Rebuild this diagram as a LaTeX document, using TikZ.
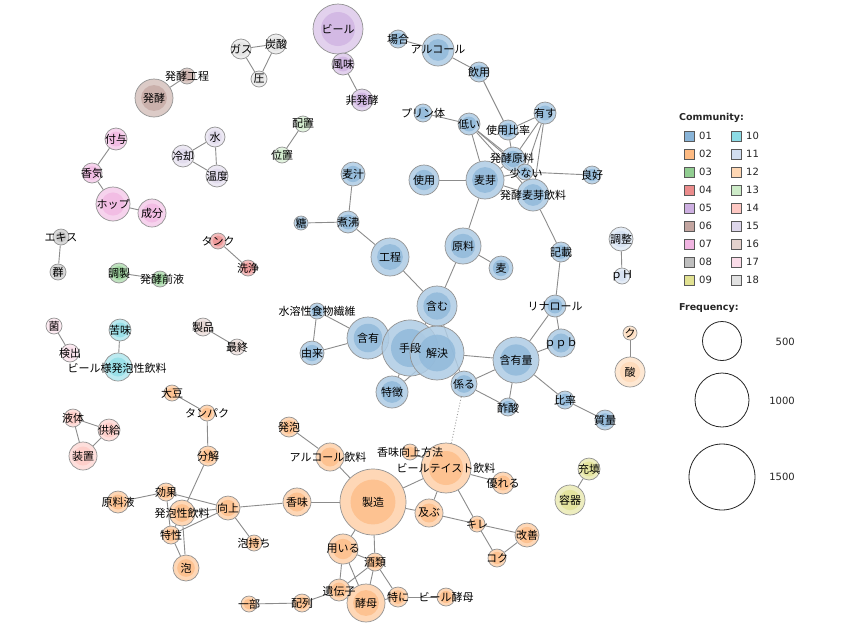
\documentclass[tikz,border=0pt]{standalone}
\usepackage{fontspec}
\setmainfont{DejaVu Sans}
\newfontfamily\jpfont{Noto Sans CJK JP}
\usetikzlibrary{calc}
\pgfdeclarelayer{back}\pgfdeclarelayer{bg}\pgfdeclarelayer{fg}\pgfsetlayers{back,bg,main,fg}
\definecolor{c01}{RGB}{137,180,216}
\definecolor{c02}{RGB}{253,186,130}
\definecolor{c03}{RGB}{145,205,145}
\definecolor{c04}{RGB}{235,140,140}
\definecolor{c05}{RGB}{205,175,225}
\definecolor{c06}{RGB}{195,165,160}
\definecolor{c07}{RGB}{240,180,225}
\definecolor{c08}{RGB}{190,190,190}
\definecolor{c09}{RGB}{225,225,145}
\definecolor{c10}{RGB}{140,220,230}
\definecolor{c11}{RGB}{210,222,240}
\definecolor{c12}{RGB}{254,215,180}
\definecolor{c13}{RGB}{205,235,200}
\definecolor{c14}{RGB}{254,200,195}
\definecolor{c15}{RGB}{222,215,235}
\definecolor{c16}{RGB}{228,210,205}
\definecolor{c17}{RGB}{250,220,232}
\definecolor{c18}{RGB}{225,225,225}
\tikzset{
  vtx/.style={circle, draw=gray!85, line width=0.7pt, inner sep=0pt, fill opacity=0.85},
  lbl/.style={font=\jpfont\fontsize{11}{12}\selectfont, inner sep=0pt, text=black},
  edge/.style={draw=gray!90, line width=0.9pt},
  dotedge/.style={draw=gray!80, line width=0.9pt, dotted},
  legsq/.style={draw=gray!70!black, line width=0.5pt, minimum size=10pt, inner sep=0pt},
  legtxt/.style={font=\fontsize{10}{12}\selectfont, anchor=west, inner sep=0pt, text=black!85},
  legttl/.style={font=\bfseries\fontsize{9.5}{11}\selectfont, anchor=west, inner sep=0pt, text=black!85},
  freqc/.style={circle, draw=black!85, line width=0.8pt, inner sep=0pt}
}
% [label offset] name x y r colour label
\newcommand\nd[7][0,0]{%
  \node[vtx, minimum size={2*#5pt}, fill=#6!68!white] (#2) at (#3,#4) {};
  \fill[#6!95!white, fill opacity=0.8] (#2.center) circle [radius={0.68*#5pt}];
  \begin{pgfonlayer}{fg}\node[lbl] at ([shift={(#1)}]#2.center) {#7};\end{pgfonlayer}%
}
\begin{document}
\begin{tikzpicture}[x=1pt,y=-1pt]
\useasboundingbox (0,0) rectangle (865,638);
\begin{pgfonlayer}{back}\fill[white] (0,0) rectangle (865,638);\end{pgfonlayer}
% small communities
\nd{beer}{338}{29}{25}{c05}{ビール}
\nd{fumi}{343}{64}{11}{c05}{風味}
\nd{hihakko}{362}{100}{11}{c05}{非発酵}
\nd{hakko}{154}{98}{19}{c06}{発酵}
\nd{hakkokotei}{187}{76}{8}{c06}{発酵工程}
\nd{gas}{241}{49}{10}{c18}{ガス}
\nd{tansan}{276}{44}{10}{c18}{炭酸}
\nd{atsu}{259}{79}{8}{c18}{圧}
\nd{haichi}{303}{124}{8}{c13}{配置}
\nd{ichi}{282}{155}{8}{c13}{位置}
\nd{fuyo}{116}{139}{11}{c07}{付与}
\nd{kouki}{92}{173}{10}{c07}{香気}
\nd{hop}{113}{204}{17}{c07}{ホップ}
\nd{seibun}{152}{213}{14}{c07}{成分}
\nd{mizu}{215}{137}{10}{c15}{水}
\nd{reikyaku}{183}{156}{11}{c15}{冷却}
\nd{ondo}{217}{176}{11}{c15}{温度}
\nd{ekisu}{61}{237}{8}{c08}{エキス}
\nd{gun}{58}{272}{8}{c08}{群}
\nd{chosei}{119}{273}{10}{c03}{調製}
\nd[2,0]{zenneki}{160}{279}{8}{c03}{発酵前液}
\nd{tank}{218}{241}{8}{c04}{タンク}
\nd{senjo}{248}{268}{8}{c04}{洗浄}
\nd{kin}{54}{326}{8}{c17}{菌}
\nd{kenshutsu}{70}{353}{9}{c17}{検出}
\nd{nigami}{120}{330}{11}{c10}{苦味}
\nd[-1,1]{beeryo}{118}{367}{14}{c10}{ビール様発泡性飲料}
\nd{seihin}{203}{327}{9}{c16}{製品}
\nd{saishu}{237}{347}{8}{c16}{最終}
\nd{chosei2}{621}{239}{12}{c11}{調整}
\nd{ph}{622}{276}{8}{c11}{ｐＨ}
\nd{ku}{630}{333}{7}{c12}{ク}
\nd{san}{630}{372}{15}{c12}{酸}
\nd{juten}{589}{469}{11}{c09}{充填}
\nd{yoki}{570}{500}{15}{c09}{容器}
\nd{ekitai}{73}{418}{9}{c14}{液体}
\nd{kyokyu}{109}{430}{11}{c14}{供給}
\nd{sochi}{83}{456}{14}{c14}{装置}
% community 01
\nd{baai}{398}{39}{9}{c01}{場合}
\nd{alcohol}{438}{50}{16}{c01}{アルコール}
\nd{inyo}{479}{72}{10}{c01}{飲用}
\nd{purin}{423}{113}{9}{c01}{プリン体}
\nd{hikui}{469}{124}{11}{c01}{低い}
\nd{shiyohi}{508}{130}{10}{c01}{使用比率}
\nd{yusu}{545}{113}{11}{c01}{有す}
\nd[-1,-1]{genryo2}{513}{159}{12}{c01}{発酵原料}
\nd[1,1]{sukunai}{525}{172}{8}{c01}{少ない}
\nd{ryoko}{592}{175}{9}{c01}{良好}
\nd{bakuga}{485}{180}{19}{c01}{麦芽}
\nd{hbi}{533}{195}{16}{c01}{発酵麦芽飲料}
\nd{shiyo}{424}{180}{15}{c01}{使用}
\nd{bakuju}{353}{174}{12}{c01}{麦汁}
\nd{futtsu}{348}{222}{11}{c01}{煮沸}
\nd{to}{301}{223}{7}{c01}{糖}
\nd{kotei}{390}{257}{19}{c01}{工程}
\nd{genryo}{463}{246}{18}{c01}{原料}
\nd{mugi}{501}{268}{12}{c01}{麦}
\nd{fukumu}{437}{306}{20}{c01}{含む}
\nd{kisai}{561}{252}{10}{c01}{記載}
\nd{rina}{555}{306}{11}{c01}{リナロール}
\nd{ppb}{561}{343}{14}{c01}{ｐｐｂ}
\nd{ganyuryo}{516}{360}{23}{c01}{含有量}
\nd{suiyo}{317}{311}{8}{c01}{水溶性食物繊維}
\nd{ganyu}{368}{338}{21}{c01}{含有}
\nd{yurai}{312}{353}{12}{c01}{由来}
\nd{shudan}{410}{348}{28}{c01}{手段}
\nd{kaiketsu}{437}{353}{27}{c01}{解決}
\nd{tokucho}{392}{392}{16}{c01}{特徴}
\nd{kakaru}{464}{384}{13}{c01}{係る}
\nd[0,1]{sakusan}{508}{407}{9}{c01}{酢酸}
\nd{hiritsu}{565}{400}{9}{c01}{比率}
\nd{shitsuryo}{605}{420}{10}{c01}{質量}
% community 02
\nd{daizu}{172}{393}{8}{c02}{大豆}
\nd{tanpaku}{207}{413}{8}{c02}{タンパク}
\nd{bunkai}{208}{456}{10}{c02}{分解}
\nd{genryoeki}{118}{502}{11}{c02}{原料液}
\nd{koka}{166}{492}{9}{c02}{効果}
\nd{happoin}{182}{513}{13}{c02}{発泡性飲料}
\nd{kojo}{228}{508}{12}{c02}{向上}
\nd{tokusei}{171}{535}{9}{c02}{特性}
\nd{awa}{186}{568}{13}{c02}{泡}
\nd{awamochi}{254}{543}{8}{c02}{泡持ち}
\nd{ichibu}{249}{604}{8}{c02}{一部}
\nd{happo}{289}{427}{10}{c02}{発泡}
\nd[-2,0]{alcin}{330}{457}{14}{c02}{アルコール飲料}
\nd{komi}{297}{502}{14}{c02}{香味}
\nd{seizo}{373}{502}{33}{c02}{製造}
\nd{kmhoho}{410}{452}{8}{c02}{香味向上方法}
\nd{bts}{446}{468}{25}{c02}{ビールテイスト飲料}
\nd{sugureru}{503}{483}{11}{c02}{優れる}
\nd{oyobu}{429}{513}{14}{c02}{及ぶ}
\nd{kire}{477}{524}{8}{c02}{キレ}
\nd{kaizen}{527}{535}{12}{c02}{改善}
\nd{koku}{497}{558}{9}{c02}{コク}
\nd{mochiiru}{343}{549}{15}{c02}{用いる}
\nd{shurui}{375}{562}{9}{c02}{酒類}
\nd[0,1]{idenshi}{339}{590}{11}{c02}{遺伝子}
\nd{kobo}{366}{603}{19}{c02}{酵母}
\nd{tokuni}{398}{597}{10}{c02}{特に}
\nd{beerkobo}{446}{597}{9}{c02}{ビール酵母}
\nd{hairetsu}{302}{603}{9}{c02}{配列}
% edges
\begin{pgfonlayer}{bg}
\foreach \a/\b in {beer/fumi, fumi/hihakko, hakko/hakkokotei, gas/tansan, gas/atsu, tansan/atsu,
  haichi/ichi, fuyo/kouki, kouki/hop, hop/seibun, mizu/reikyaku, mizu/ondo, reikyaku/ondo,
  ekisu/gun, chosei/zenneki, tank/senjo, kin/kenshutsu, nigami/beeryo, seihin/saishu,
  chosei2/ph, ku/san, juten/yoki, ekitai/kyokyu, ekitai/sochi, kyokyu/sochi,
  baai/alcohol, alcohol/inyo, inyo/shiyohi, shiyohi/genryo2, purin/hikui, hikui/bakuga,
  hikui/genryo2, hikui/sukunai, hikui/hbi, yusu/shiyohi, yusu/genryo2, yusu/sukunai, yusu/hbi,
  genryo2/sukunai, genryo2/bakuga, sukunai/ryoko, bakuga/shiyo, bakuga/hbi, bakuga/genryo,
  bakuga/sukunai, hbi/kisai, genryo/mugi, genryo/fukumu, bakuju/futtsu, to/futtsu,
  futtsu/kotei, kotei/fukumu, fukumu/shudan, fukumu/kaiketsu, fukumu/kakaru, kisai/rina,
  rina/ppb, rina/ganyuryo, ppb/ganyuryo, ganyuryo/kaiketsu, ganyuryo/kakaru, ganyuryo/sakusan,
  ganyuryo/hiritsu, hiritsu/shitsuryo, kakaru/sakusan, kaiketsu/kakaru, shudan/ganyu,
  shudan/tokucho, kaiketsu/tokucho, suiyo/ganyu, suiyo/yurai, yurai/ganyu,
  daizu/tanpaku, tanpaku/bunkai, bunkai/happoin, genryoeki/koka, koka/kojo, koka/tokusei,
  happoin/kojo, happoin/tokusei, happoin/awa, tokusei/kojo, tokusei/awa, kojo/komi,
  kojo/awamochi, komi/seizo, happo/alcin, alcin/seizo, seizo/bts, seizo/oyobu, seizo/mochiiru,
  seizo/shurui, bts/kmhoho, bts/sugureru, bts/oyobu, bts/kire, oyobu/kire, kire/kaizen,
  kire/koku, koku/kaizen, mochiiru/shurui, mochiiru/idenshi, mochiiru/kobo, shurui/idenshi,
  shurui/kobo, shurui/tokuni, idenshi/kobo, idenshi/hairetsu, kobo/tokuni, tokuni/beerkobo,
  hairetsu/ichibu}
  \draw[edge] (\a) -- (\b);
\draw[dotedge] (kakaru) -- (bts);
\end{pgfonlayer}
% legend
\node[legttl] (commttl) at (679,118) {Community:};
\foreach \i/\n in {0/01,1/02,2/03,3/04,4/05,5/06,6/07,7/08,8/09}{
  \node[legsq, fill=c\n] (sqa\n) at (689,136+18*\i) {};
  \node[legtxt] at (699,136+18*\i) {\n};
}
\foreach \i/\n in {0/10,1/11,2/12,3/13,4/14,5/15,6/16,7/17,8/18}{
  \node[legsq, fill=c\n] (sqb\n) at (736,136+18*\i) {};
  \node[legtxt] at (746,136+18*\i) {\n};
}
\node[legttl] (freqttl) at (679,308) {Frequency:};
\node[freqc, minimum size=39pt] (f500) at (722,341) {};
\node[freqc, minimum size=54pt] (f1000) at (722,400) {};
\node[freqc, minimum size=66pt] (f1500) at (722,477) {};
\node[legtxt, anchor=east] at (795,342) {500};
\node[legtxt, anchor=east] at (795,401) {1000};
\node[legtxt, anchor=east] at (795,477) {1500};
\end{tikzpicture}
\end{document}
